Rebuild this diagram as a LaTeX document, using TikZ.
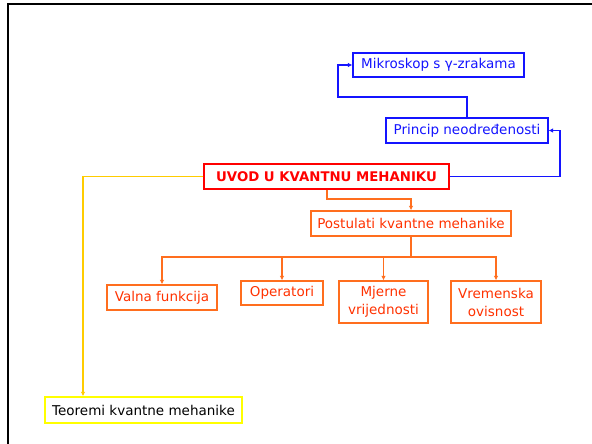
\documentclass[tikz,border=0pt]{standalone}
\usepackage{fontspec}
\setmainfont{DejaVu Sans}
\usetikzlibrary{arrows.meta}
\definecolor{myblue}{RGB}{20,20,255}
\definecolor{myred}{RGB}{255,0,0}
\definecolor{oline}{RGB}{255,110,30}
\definecolor{otext}{RGB}{255,50,0}
\definecolor{yline}{RGB}{255,204,0}
\definecolor{ybox}{RGB}{255,255,0}
\tikzset{
  bluebox/.style={draw=myblue, line width=1.2pt, text=myblue, inner sep=0pt, font=\fontsize{13.5}{16}\selectfont},
  orbox/.style={draw=oline, line width=1.3pt, text=otext, inner sep=0pt, align=center, font=\fontsize{13.5}{18}\selectfont},
  mainbox/.style={draw=myred, line width=1.4pt, text=myred, inner sep=0pt, font=\bfseries\fontsize{13.3}{16}\selectfont},
  yelbox/.style={draw=ybox, line width=1.4pt, text=black, inner sep=0pt, font=\fontsize{13.5}{16}\selectfont},
  bconn/.style={myblue, line width=1.2pt, -{Latex[length=4.5pt,width=4.5pt]}},
  oconn/.style={oline, line width=1.3pt, -{Latex[length=4.5pt,width=4.5pt]}},
  yconn/.style={yline, line width=1.5pt, -{Latex[length=4.5pt,width=4.5pt]}},
}
\begin{document}
\begin{tikzpicture}[x=1pt,y=-1pt]
\useasboundingbox (0,0) rectangle (592,444);
\fill[white] (0,0) rectangle (592,444);
\draw[black, line width=2pt] (7.5,444) -- (7.5,4.5) -- (592,4.5);

\node[bluebox, minimum width=171pt, minimum height=24pt] (mik) at (438.5,65) {Mikroskop s γ-zrakama};
\node[bluebox, minimum width=162pt, minimum height=25pt] (pri) at (467,130.5) {Princip neodređenosti};
\node[mainbox, minimum width=245pt, minimum height=25pt] (uvod) at (326.5,176.5) {UVOD U KVANTNU MEHANIKU};
\node[orbox, minimum width=200pt, minimum height=25pt] (post) at (411,223.5) {Postulati kvantne mehanike};
\node[orbox, minimum width=110pt, minimum height=25pt] (valna) at (162,297.5) {Valna funkcija};
\node[orbox, minimum width=82pt, minimum height=24pt] (oper) at (282,293) {Operatori};
\node[orbox, minimum width=89pt, minimum height=42pt] (mjer) at (383.5,302) {Mjerne\\vrijednosti};
\node[orbox, minimum width=90pt, minimum height=42pt] (vrem) at (496,302) {Vremenska\\ovisnost};
\node[yelbox, minimum width=197pt, minimum height=26pt] (teor) at (143.5,410) {Teoremi kvantne mehanike};

\coordinate (bA) at (560,176.5);
\draw[bconn] (uvod.east) -- (bA) |- (pri.east);
\coordinate (bB) at (467,97);
\coordinate (bC) at (338,97);
\draw[bconn] (pri.north) -- (bB) -- (bC) |- (mik.west);

\coordinate (oA) at (327,199);
\draw[oconn] (oA |- uvod.south) -- (oA) -| (post.north);
\coordinate (hub) at (411,257);
\draw[oline, line width=1.6pt] (post.south) -- (hub);
\draw[oconn] (hub) -| (valna.north);
\draw[oconn] (hub) -| (oper.north);
\draw[oconn] (hub) -| (mjer.north);
\draw[oconn] (hub) -| (vrem.north);

\coordinate (yA) at (83,176.5);
\draw[yconn] (uvod.west) -- (yA) -- (yA |- teor.north);
\end{tikzpicture}
\end{document}
